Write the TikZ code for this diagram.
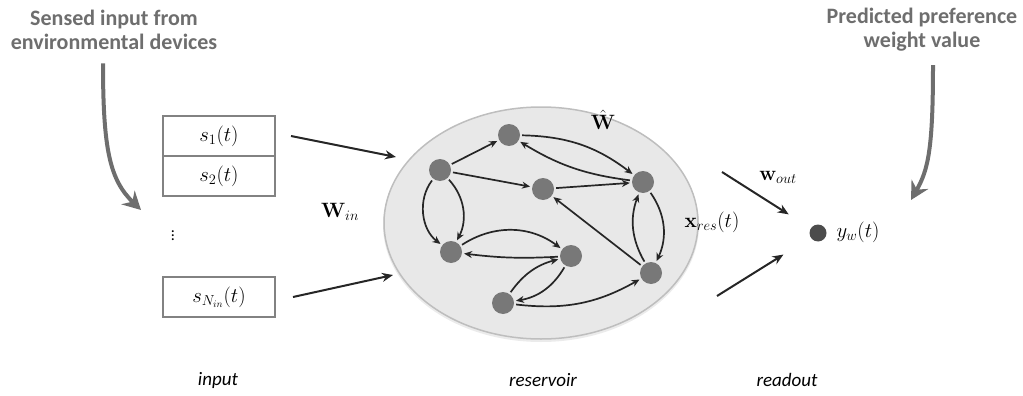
\documentclass[tikz,border=0pt]{standalone}
\usepackage[no-math]{fontspec}
\setmainfont{Carlito}
\usetikzlibrary{arrows.meta,shapes.geometric}
\definecolor{labelgray}{RGB}{110,110,110}
\definecolor{boxgray}{RGB}{130,130,130}
\definecolor{neuron}{RGB}{120,120,120}
\definecolor{resfill}{RGB}{232,232,232}
\definecolor{resline}{RGB}{190,190,190}
\tikzset{
  note/.style={font=\fontsize{22}{24}\selectfont\bfseries, text=labelgray, align=center},
  stage/.style={font=\fontsize{19}{22}\selectfont\itshape},
  mathlbl/.style={font=\fontsize{20}{24}\selectfont},
  sigbox/.style={draw=boxgray, line width=2pt, minimum width=112pt, minimum height=40pt,
    inner sep=0pt, font=\fontsize{20}{24}\selectfont},
  unit/.style={circle, fill=neuron, minimum size=22pt, inner sep=0pt},
  outunit/.style={circle, fill=black!70, minimum size=17pt, inner sep=0pt},
  arr/.style={-{Stealth[length=11pt,width=9pt]}, line width=2pt, black!85},
  link/.style={-{Stealth[length=8pt,width=7pt]}, line width=1.7pt, black!85, shorten >=2pt, shorten <=2pt},
  hint/.style={-{Stealth[length=18pt,width=19pt,inset=6pt]}, line width=4pt, labelgray},
}
\begin{document}
\begin{tikzpicture}[x=1pt,y=-1pt]
\useasboundingbox (0,0) rectangle (1023,396);

% side notes
\node[note] (srcnote) at (114,30) {Sensed input from\\environmental devices};
\node[note] (prednote) at (922,30) {Predicted preference\\weight value};

% input layer
\node[sigbox] (s1) at (219,136) {$s_1(t)$};
\node[sigbox] (s2) at (219,176) {$s_2(t)$};
\node[font=\fontsize{16}{18}\selectfont] (dots) at (173,233) {$\vdots$};
\node[sigbox] (sn) at (219,297) {$s_{N_{in}}(t)$};
\node[mathlbl] (win) at (340,212) {$\mathbf{W}_{in}$};

% reservoir
\node[ellipse, fill=black!8, minimum width=316pt, minimum height=234pt, inner sep=0pt] (shadow) at (541,225) {};
\node[ellipse, draw=resline, line width=1.5pt, fill=resfill, minimum width=314pt, minimum height=232pt, inner sep=0pt] (res) at (541,223) {};
\node[mathlbl] (wres) at (603,120) {$\hat{\mathbf{W}}$};
\node[mathlbl] (xres) at (712,222) {$\mathbf{x}_{res}(t)$};

\node[unit] (A) at (509,135) {};
\node[unit] (B) at (440,170) {};
\node[unit] (C) at (543,189) {};
\node[unit] (D) at (643,182) {};
\node[unit] (E) at (451,252) {};
\node[unit] (F) at (571,256) {};
\node[unit] (G) at (651,273) {};
\node[unit] (H) at (503,303) {};

\draw[link] (B) -- (A);
\draw[link] (B) -- (C);
\draw[link] (C) -- (D);
\draw[link] (A) to[bend left=18] (D);
\draw[link] (D) to[bend left=12] (A);
\draw[link] (B) to[bend right=45] (E);
\draw[link] (B) to[bend left=35] (E);
\draw[link] (E) to[bend left=35] (F);
\draw[link] (F) to[bend left=5] (E);
\draw[link] (H) to[bend left=20] (F);
\draw[link] (F) to[bend left=25] (H);
\draw[link] (D) to[bend left=30] (G);
\draw[link] (G) to[bend left=25] (D);
\draw[link] (G) -- (C);
\draw[link] (H) to[bend right=18] (G);

% input connections
\coordinate (in1) at (396,157);
\coordinate (in2) at (393,275);
\draw[arr] ([xshift=15pt]s1.east) -- (in1);
\draw[arr] ([xshift=17pt]sn.east) -- (in2);

% readout
\node[outunit] (y) at (818,233) {};
\node[mathlbl, anchor=west] (ylbl) at (833,232) {$y_w(t)$};
\coordinate (out1) at (722,172);
\coordinate (out2) at (717,296);
\draw[arr, shorten >=26pt] (out1) -- (y);
\draw[arr, shorten >=32pt] (out2) -- (y);
\node[mathlbl] (wout) at (778,177) {$\mathbf{w}_{out}$};

% hints
\coordinate (srctip) at (141,210);
\coordinate (predtip) at (911,200);
\draw[hint] (srcnote.south -| 103,0) ++(0,10) .. controls (103,150) and (110,180) .. (srctip);
\draw[hint] (prednote.south -| 933,0) ++(0,10) .. controls (933,150) and (928,170) .. (predtip);

% stage captions
\node[stage] (lin) at (218,380) {input};
\node[stage] (lres) at (543,380) {reservoir};
\node[stage] (lout) at (787,380) {readout};
\end{tikzpicture}
\end{document}
